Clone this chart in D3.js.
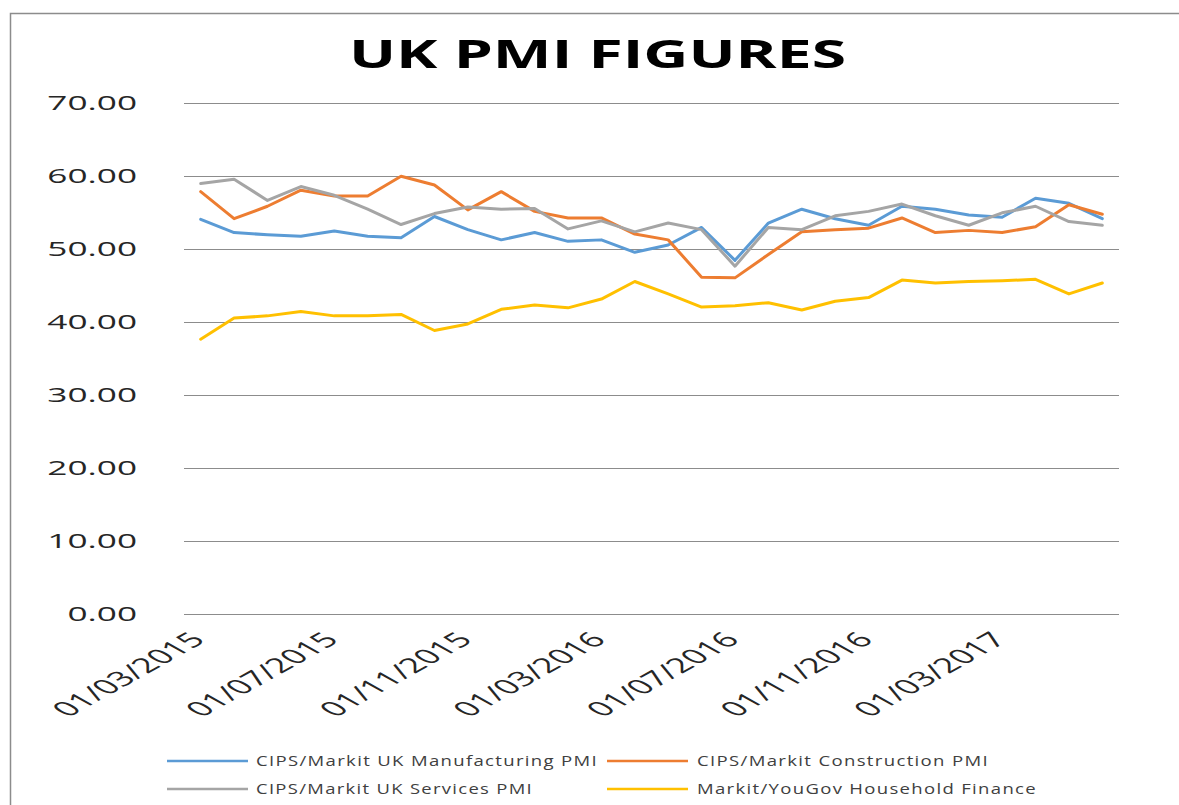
<!DOCTYPE html>
<html>
<head>
<meta charset="utf-8">
<script src="https://cdn.jsdelivr.net/npm/d3@7"></script>
<style>
  body { margin: 0; background: #fff; }
  text { font-family: "Open Sans", sans-serif; fill: #262626; }
</style>
</head>
<body>
<div id="pmi-chart"></div>
<script>
// Months (first of month)
const months = [
  "01/03/2015", "01/04/2015", "01/05/2015", "01/06/2015", "01/07/2015", "01/08/2015", "01/09/2015",
  "01/10/2015", "01/11/2015", "01/12/2015", "01/01/2016", "01/02/2016", "01/03/2016", "01/04/2016",
  "01/05/2016", "01/06/2016", "01/07/2016", "01/08/2016", "01/09/2016", "01/10/2016", "01/11/2016",
  "01/12/2016", "01/01/2017", "01/02/2017", "01/03/2017", "01/04/2017", "01/05/2017", "01/06/2017"
];
const tickLabels = ["01/03/2015", "01/07/2015", "01/11/2015", "01/03/2016", "01/07/2016", "01/11/2016", "01/03/2017"];
const yTicks = [0, 10, 20, 30, 40, 50, 60, 70];

const manufacturing = [54.0, 52.2, 51.9, 51.7, 52.4, 51.7, 51.5, 54.4, 52.6, 51.2, 52.2, 51.0, 51.2, 49.5,
  50.5, 52.9, 48.4, 53.5, 55.4, 54.1, 53.2, 55.8, 55.4, 54.6, 54.3, 56.9, 56.2, 54.1];
const construction = [57.8, 54.1, 55.8, 58.0, 57.2, 57.2, 59.9, 58.7, 55.3, 57.8, 55.1, 54.2, 54.2, 52.0,
  51.2, 46.1, 46.0, 49.2, 52.3, 52.6, 52.8, 54.2, 52.2, 52.5, 52.2, 53.0, 56.0, 54.7];
const services = [58.9, 59.5, 56.6, 58.5, 57.3, 55.4, 53.3, 54.8, 55.7, 55.4, 55.5, 52.7, 53.8, 52.3,
  53.5, 52.6, 47.6, 52.9, 52.6, 54.5, 55.1, 56.1, 54.5, 53.2, 54.9, 55.8, 53.7, 53.2];
const household = [37.6, 40.5, 40.8, 41.4, 40.8, 40.8, 41.0, 38.8, 39.7, 41.7, 42.3, 41.9, 43.1, 45.5,
  43.8, 42.0, 42.2, 42.6, 41.6, 42.8, 43.3, 45.7, 45.3, 45.5, 45.6, 45.8, 43.8, 45.3];

const series = [
  { name: "CIPS/Markit UK Manufacturing PMI", values: manufacturing, color: "#5B9BD5" },
  { name: "CIPS/Markit Construction PMI", values: construction, color: "#ED7D31" },
  { name: "CIPS/Markit UK Services PMI", values: services, color: "#A5A5A5" },
  { name: "Markit/YouGov Household Finance", values: household, color: "#FFC000" }
];

const width = 1179;
const height = 805;
const plot = { left: 184, right: 1119, top: 102.5, bottom: 614 };
const stretch = 1.76; // text in the picture is drawn wide

const svg = d3.select("#pmi-chart")
  .append("svg")
  .attr("width", width)
  .attr("height", height);

// chart frame (only top and left edges show)
svg.append("path")
  .attr("d", `M10.5,${height} V13.5 H${width}`)
  .attr("fill", "none")
  .attr("stroke", "#8c8c8c")
  .attr("stroke-width", 1.5);

// Title
svg.append("text")
  .attr("x", 349)
  .attr("y", 68)
  .attr("textLength", 497)
  .attr("lengthAdjust", "spacingAndGlyphs")
  .style("font-size", "40px")
  .style("font-weight", "bold")
  .style("fill", "#000")
  .text("UK PMI FIGURES");

// Scales
const x = d3.scalePoint()
  .domain(months)
  .range([plot.left, plot.right])
  .padding(0.5);

const y = d3.scaleLinear()
  .domain([0, 70])
  .range([plot.bottom, plot.top]);

// Gridlines
svg.append("g")
  .selectAll("line")
  .data(yTicks)
  .enter()
  .append("line")
  .attr("x1", plot.left)
  .attr("x2", plot.right)
  .attr("y1", (d) => Math.round(y(d)) + 0.5)
  .attr("y2", (d) => Math.round(y(d)) + 0.5)
  .attr("stroke", "#8c8c8c")
  .attr("stroke-width", 1.2);

// Y labels
svg.append("g")
  .selectAll("text")
  .data(yTicks)
  .enter()
  .append("text")
  .attr("transform", (d) => `translate(137,${y(d) + 7}) scale(${stretch},1)`)
  .attr("text-anchor", "end")
  .style("font-size", "20px")
  .text((d) => d3.format(".2f")(d));

// X labels, rotated
svg.append("g")
  .selectAll("text")
  .data(tickLabels)
  .enter()
  .append("text")
  .attr("transform", (d) => `translate(${x(d) + 6},${plot.bottom + 27}) scale(1.8,1) rotate(-45)`)
  .attr("text-anchor", "end")
  .style("font-size", "20.5px")
  .text((d) => d);

// Lines
const line = d3.line()
  .x((d, i) => x(months[i]))
  .y((d) => y(d));

svg.append("g")
  .selectAll("path")
  .data(series)
  .enter()
  .append("path")
  .attr("d", (d) => line(d.values))
  .attr("fill", "none")
  .attr("stroke", (d) => d.color)
  .attr("stroke-width", 3)
  .attr("stroke-linejoin", "round")
  .attr("stroke-linecap", "round");

// Legend: two columns, two rows
const legendPos = [
  { x: 167, y: 761, w: 342 },
  { x: 607, y: 761, w: 292 },
  { x: 167, y: 789, w: 277 },
  { x: 607, y: 789, w: 340 }
];

const legend = svg.append("g")
  .selectAll("g")
  .data(series)
  .enter()
  .append("g")
  .attr("transform", (d, i) => `translate(${legendPos[i].x},${legendPos[i].y})`);

legend.append("line")
  .attr("x1", 0)
  .attr("x2", 81)
  .attr("stroke", (d) => d.color)
  .attr("stroke-width", 2.5);

legend.append("text")
  .attr("x", (d, i) => (i % 2 === 0 ? 89 : 90))
  .attr("y", 5)
  .attr("textLength", (d, i) => legendPos[i].w)
  .attr("lengthAdjust", "spacingAndGlyphs")
  .style("font-size", "14px")
  .style("letter-spacing", "1px")
  .style("fill", "#404040")
  .text((d) => d.name);
</script>
</body>
</html>
